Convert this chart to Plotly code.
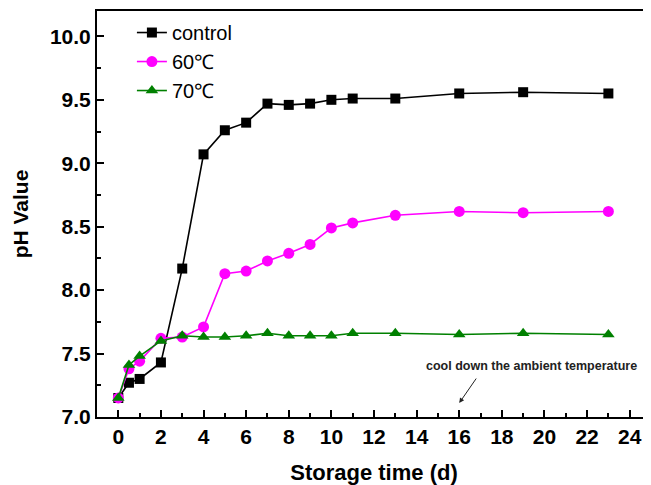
import plotly.graph_objects as go

days = [0, 0.5, 1, 2, 3, 4, 5, 6, 7, 8, 9, 10, 11, 13, 16, 19, 23]
control = [7.15, 7.27, 7.30, 7.43, 8.17, 9.07, 9.26, 9.32, 9.47, 9.46, 9.47, 9.50, 9.51, 9.51, 9.55, 9.56, 9.55]
t60 = [7.15, 7.38, 7.44, 7.62, 7.63, 7.71, 8.13, 8.15, 8.23, 8.29, 8.36, 8.49, 8.53, 8.59, 8.62, 8.61, 8.62]
t70 = [7.15, 7.41, 7.48, 7.60, 7.64, 7.63, 7.63, 7.64, 7.66, 7.64, 7.64, 7.64, 7.66, 7.66, 7.65, 7.66, 7.65]
names = ["control", "60℃", "70℃"]
x_ticks = list(range(0, 25, 2))
y_ticks = [7.0, 7.5, 8.0, 8.5, 9.0, 9.5, 10.0]
note_text = "cool down the ambient temperature"
note_day = 16

FONT = "Liberation Sans, Arial, sans-serif"

fig = go.Figure()
fig.add_trace(go.Scatter(x=days, y=control, name=names[0], mode="lines+markers",
                         line=dict(color="#000000", width=1.6),
                         marker=dict(symbol="square", size=10, color="#000000")))
fig.add_trace(go.Scatter(x=days, y=t60, name=names[1], mode="lines+markers",
                         line=dict(color="#ff00ff", width=1.6),
                         marker=dict(symbol="circle", size=11, color="#ff00ff")))
fig.add_trace(go.Scatter(x=days, y=t70, name=names[2], mode="lines+markers",
                         line=dict(color="#008000", width=1.6),
                         marker=dict(symbol="triangle-up", size=11, color="#008000")))

fig.add_annotation(x=note_day, y=7.11, ax=18, ay=-26, xref="x", yref="y",
                   showarrow=True, arrowhead=2, arrowsize=1, arrowwidth=1,
                   arrowcolor="#222222", text="")
fig.add_annotation(x=19.37, y=7.40, xref="x", yref="y", showarrow=False,
                   text=note_text, font=dict(family=FONT, size=12.5, color="#222222", weight="bold"))

fig.update_layout(
    width=643, height=477,
    margin=dict(l=89, r=0, t=3, b=68),
    paper_bgcolor="white", plot_bgcolor="white",
    font=dict(family=FONT, color="black"),
    showlegend=True,
    legend=dict(x=0.063, y=0.995, xanchor="left", yanchor="top",
                bgcolor="rgba(0,0,0,0)", font=dict(family=FONT, size=20, color="black"),
                tracegroupgap=0),
    xaxis=dict(range=[-1, 25], tickvals=x_ticks, ticks="inside", ticklen=7, tickwidth=1.5,
               tickcolor="black", showline=True, linecolor="black", linewidth=2, mirror=True,
               showgrid=False, zeroline=False,
               tickfont=dict(family=FONT, size=21, color="black", weight="bold"),
               minor=dict(dtick=1, tick0=0, ticks="inside", ticklen=4, tickwidth=1.5, tickcolor="black", showgrid=False),
               title=dict(text="Storage time (d)", standoff=17,
                          font=dict(family=FONT, size=22, color="black", weight="bold"))),
    yaxis=dict(range=[7, 10.2], tickvals=y_ticks, ticktext=[f"{v:.1f}" for v in y_ticks],
               ticks="inside", ticklen=7, tickwidth=1.5,
               tickcolor="black", showline=True, linecolor="black", linewidth=2, mirror=False,
               showgrid=False, zeroline=False,
               tickfont=dict(family=FONT, size=21, color="black", weight="bold"),
               minor=dict(dtick=0.25, tick0=7, ticks="inside", ticklen=4, tickwidth=1.5, tickcolor="black", showgrid=False),
               title=dict(text="pH Value", standoff=16,
                          font=dict(family=FONT, size=21, color="black", weight="bold"))),
)

fig.write_html("out.html")
